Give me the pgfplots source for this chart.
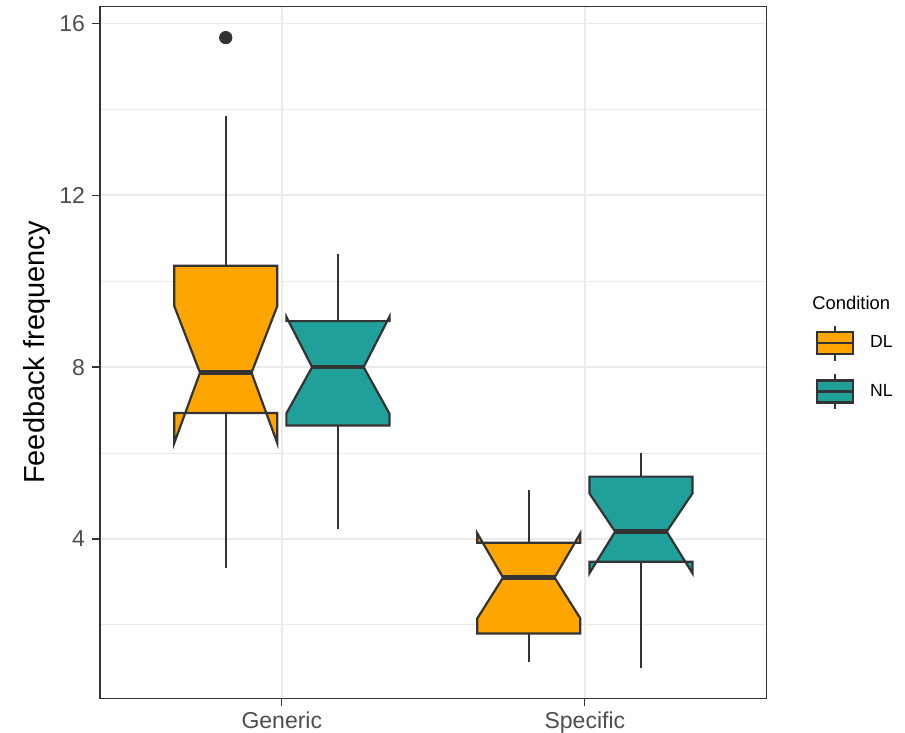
\documentclass[border=0pt]{standalone}
\usepackage{pgfplots}
\pgfplotsset{compat=1.18}
\usepackage{fontspec}
\setmainfont{Liberation Sans}
\definecolor{grey20}{HTML}{333333}
\definecolor{grey30}{HTML}{4D4D4D}
\definecolor{gridc}{HTML}{EBEBEB}
\definecolor{dlcol}{HTML}{FFA500}
\definecolor{nlcol}{HTML}{21A09B}
\begin{document}
\begin{tikzpicture}
\begin{axis}[
  scale only axis,
  width=333.35pt, height=345.8pt,
  xmin=0.4, xmax=2.6,
  ymin=0.29, ymax=16.39,
  xtick={1,2}, xticklabels={Generic,Specific},
  ytick={4,8,12,16},
  minor ytick={2,6,10,14},
  minor tick length=0pt,
  major tick length=4pt,
  tick align=outside,
  tick pos=left,
  tick style={color=grey20, line width=0.6pt},
  xmajorgrids, ymajorgrids, yminorgrids,
  major grid style={color=gridc, line width=0.9pt},
  minor grid style={color=gridc, line width=0.5pt},
  axis line style={color=grey20, line width=0.6pt},
  /pgf/number format/assume math mode=true,
  ticklabel style={font=\fontsize{11.5}{13}\selectfont, color=grey30},
  yticklabel style={anchor=east, xshift=0pt},
  xticklabel style={anchor=north, yshift=1pt},
  ylabel={Feedback frequency},
  ylabel style={font=\fontsize{14.5}{16}\selectfont, color=black, at={(rel axis cs:0,0.5)}, anchor=center, yshift=31.5pt},
  legend style={draw=none, fill=none, at={(1,0.5)}, anchor=west, xshift=24.65pt, yshift=-7.5pt,
    inner sep=0pt, outer sep=0pt, row sep=5.4pt, nodes={inner sep=0pt},
    font=\fontsize{8.8}{10}\selectfont,
    /tikz/every odd column/.append style={column sep=8pt}},
  legend cell align=left,
]
% whiskers
\addplot[grey20, line width=1.1pt, forget plot] coordinates {(0.815,10.36) (0.815,13.85)};
\addplot[grey20, line width=1.1pt, forget plot] coordinates {(0.815,6.93) (0.815,3.32)};
\addplot[grey20, line width=1.1pt, forget plot] coordinates {(1.185,9.07) (1.185,10.63)};
\addplot[grey20, line width=1.1pt, forget plot] coordinates {(1.185,6.64) (1.185,4.22)};
\addplot[grey20, line width=1.1pt, forget plot] coordinates {(1.815,3.91) (1.815,5.14)};
\addplot[grey20, line width=1.1pt, forget plot] coordinates {(1.815,1.80) (1.815,1.14)};
\addplot[grey20, line width=1.1pt, forget plot] coordinates {(2.185,5.45) (2.185,5.99)};
\addplot[grey20, line width=1.1pt, forget plot] coordinates {(2.185,3.47) (2.185,1.00)};
% notched boxes
\addplot[fill=dlcol, draw=grey20, line width=1.1pt, forget plot] coordinates {
 (0.645,6.93) (0.645,6.23) (0.730,7.87) (0.645,9.42) (0.645,10.36)
 (0.985,10.36) (0.985,9.42) (0.900,7.87) (0.985,6.23) (0.985,6.93)} -- cycle;
\addplot[fill=nlcol, draw=grey20, line width=1.1pt, forget plot] coordinates {
 (1.015,6.64) (1.015,6.92) (1.100,8.00) (1.015,9.17) (1.015,9.07)
 (1.355,9.07) (1.355,9.17) (1.270,8.00) (1.355,6.92) (1.355,6.64)} -- cycle;
\addplot[fill=dlcol, draw=grey20, line width=1.1pt, forget plot] coordinates {
 (1.645,1.80) (1.645,2.15) (1.730,3.10) (1.645,4.13) (1.645,3.91)
 (1.985,3.91) (1.985,4.13) (1.900,3.10) (1.985,2.15) (1.985,1.80)} -- cycle;
\addplot[fill=nlcol, draw=grey20, line width=1.1pt, forget plot] coordinates {
 (2.015,3.47) (2.015,3.20) (2.100,4.17) (2.015,5.06) (2.015,5.45)
 (2.355,5.45) (2.355,5.06) (2.270,4.17) (2.355,3.20) (2.355,3.47)} -- cycle;
% medians
\addplot[grey20, line width=2.2pt, forget plot] coordinates {(0.730,7.87) (0.900,7.87)};
\addplot[grey20, line width=2.2pt, forget plot] coordinates {(1.100,8.00) (1.270,8.00)};
\addplot[grey20, line width=2.2pt, forget plot] coordinates {(1.730,3.10) (1.900,3.10)};
\addplot[grey20, line width=2.2pt, forget plot] coordinates {(2.100,4.17) (2.270,4.17)};
% outlier
\addplot[only marks, mark=*, mark size=3.1pt, color=grey20, fill=grey20, forget plot] coordinates {(0.815,15.67)};
% legend
\addlegendimage{legend image code/.code={
  \draw[grey20, line width=1.1pt] (9pt,5.5pt) -- (9pt,8.8pt);
  \draw[grey20, line width=1.1pt] (9pt,-5.5pt) -- (9pt,-8.8pt);
  \draw[grey20, fill=dlcol, line width=1.1pt] (0pt,-5.5pt) rectangle (18pt,5.5pt);
  \draw[grey20, line width=1.1pt] (0pt,0pt) -- (18pt,0pt);}}
\addlegendentry{DL}
\addlegendimage{legend image code/.code={
  \draw[grey20, line width=1.1pt] (9pt,5.5pt) -- (9pt,8.8pt);
  \draw[grey20, line width=1.1pt] (9pt,-5.5pt) -- (9pt,-8.8pt);
  \draw[grey20, fill=nlcol, line width=1.1pt] (0pt,-5.5pt) rectangle (18pt,5.5pt);
  \draw[grey20, line width=1.1pt] (0pt,0pt) -- (18pt,0pt);}}
\addlegendentry{NL}
\coordinate (sw) at (rel axis cs:0,0);
\coordinate (ne) at (rel axis cs:1,1);
\coordinate (e) at (rel axis cs:1,0.5);
\end{axis}
\node[anchor=west, inner sep=0pt, font=\fontsize{9.2}{11}\selectfont] at ([xshift=22.65pt,yshift=24.75pt]e) {Condition};
\pgfresetboundingbox
\path ([xshift=-50pt,yshift=-17.35pt]sw) rectangle ([xshift=69.15pt,yshift=3.35pt]ne);
\end{tikzpicture}
\end{document}
